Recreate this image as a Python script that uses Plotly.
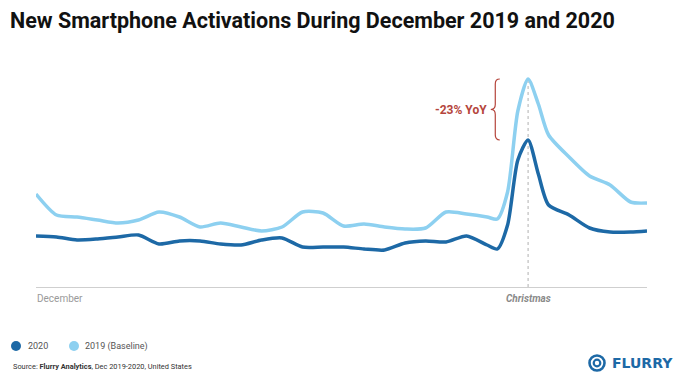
import plotly.graph_objects as go

# ---- data (daily activation index, December) ----
days = [1, 2, 3, 4, 5, 6, 7, 8, 9, 10, 11, 12, 13, 14, 15, 16, 17, 18, 19, 20,
        21, 22, 23, 23.5, 24, 24.5, 25, 25.5, 26, 27, 28, 29, 30, 30.8]
act_2019 = [93, 72, 70, 67, 64, 67, 75, 70, 60, 64, 60, 56, 60, 75, 74, 61, 63, 60, 58, 59,
            75, 73, 70, 68, 95, 176, 208, 183, 152, 130, 111, 102, 85, 84]
act_2020 = [51, 50, 47, 48, 50, 52, 43, 46, 46, 43, 42, 47, 49, 40, 40, 40, 38, 37, 44, 46,
            45, 51, 42, 38, 62, 127, 147, 113, 82, 72, 59, 55, 55, 56]
series_names = ["2020", "2019 (Baseline)"]
christmas_day = 25
yoy_label = "-23% YoY"
x_tick_first = "December"
x_tick_christmas = "Christmas"

DARK = "#1d69a6"
LIGHT = "#8dd0f0"
RED = "#b5453c"

# figure geometry (page body has an 8px margin)
FW, FH = 673, 365
L, R, T, B = 28, 34, 64, 86
PW, PH = FW - L - R, FH - T - B


def fx(p):  # figure pixel x -> paper
    return (p - L) / PW


def fy(p):  # figure pixel y -> paper
    return (FH - B - p) / PH


fig = go.Figure()

fig.add_trace(go.Scatter(x=days, y=act_2019, mode="lines", name=series_names[1],
                         line=dict(color=LIGHT, width=3.5, shape="spline", smoothing=0.7),
                         showlegend=False, hoverinfo="skip"))
fig.add_trace(go.Scatter(x=days, y=act_2020, mode="lines", name=series_names[0],
                         line=dict(color=DARK, width=3.5, shape="spline", smoothing=0.7),
                         showlegend=False, hoverinfo="skip"))

peak19 = max(act_2019)
peak20 = max(act_2020)

# Christmas dotted line
fig.add_shape(type="line", xref="x", yref="y", x0=christmas_day, x1=christmas_day,
              y0=0, y1=peak19, line=dict(color="#b0b0b0", width=1, dash="dot"), layer="below")

# curly brace between the two peaks
xc = christmas_day - 1.6
dx = 0.22
h = peak19 - peak20
mid = (peak19 + peak20) / 2
r = h * 0.08
brace = (f"M {xc+dx},{peak19} Q {xc},{peak19} {xc},{peak19-r} "
         f"L {xc},{mid+r} Q {xc},{mid} {xc-dx},{mid} "
         f"Q {xc},{mid} {xc},{mid-r} "
         f"L {xc},{peak20+r} Q {xc},{peak20} {xc+dx},{peak20}")
fig.add_shape(type="path", xref="x", yref="y", path=brace,
              line=dict(color=RED, width=1.2))

fig.add_annotation(x=xc - 0.3, y=mid, xref="x", yref="y", text=f"<b>{yoy_label}</b>",
                   showarrow=False, xanchor="right", yanchor="middle",
                   font=dict(family="Roboto", size=12, color=RED))

# x labels
fig.add_annotation(x=days[0], y=0, xref="x", yref="y", text=x_tick_first, showarrow=False,
                   xanchor="left", yanchor="top", yshift=-4, xshift=-1,
                   font=dict(family="Roboto", size=10, color="#9a9a9a"))
fig.add_annotation(x=christmas_day, y=0, xref="x", yref="y", text=f"<b><i>{x_tick_christmas}</i></b>",
                   showarrow=False, xanchor="center", yanchor="top", yshift=-4,
                   font=dict(family="Roboto", size=10, color="#8a8a8a"))

# legend (round swatches + labels)
legend_colors = [DARK, LIGHT]
legend_dot_x = [8, 66]
legend_text_x = [18, 75]
for name, col, dxp, txp in zip(series_names, legend_colors, legend_dot_x, legend_text_x):
    fig.add_shape(type="circle", xref="paper", yref="paper",
                  x0=fx(dxp - 5), x1=fx(dxp + 5), y0=fy(338 + 5), y1=fy(338 - 5),
                  fillcolor=col, line=dict(width=0))
    fig.add_annotation(x=fx(txp), y=fy(338), xref="paper", yref="paper", text=name,
                       showarrow=False, xanchor="left", yanchor="middle",
                       font=dict(family="Roboto", size=9, color="#555555"))

# source line
fig.add_annotation(x=fx(3), y=fy(358), xref="paper", yref="paper",
                   text="Source: <b>Flurry Analytics</b>, Dec 2019-2020, United States",
                   showarrow=False, xanchor="left", yanchor="middle",
                   font=dict(family="Roboto", size=7.4, color="#333333"))

# Flurry logo
cx, cy = 589, 355
for rad, w in [(7.5, 2.6), (3.3, 2.2)]:
    fig.add_shape(type="circle", xref="paper", yref="paper",
                  x0=fx(cx - rad), x1=fx(cx + rad), y0=fy(cy + rad), y1=fy(cy - rad),
                  line=dict(color=DARK, width=w))
fig.add_annotation(x=fx(602), y=fy(355), xref="paper", yref="paper", text="<b>FLURRY</b>",
                   showarrow=False, xanchor="left", yanchor="middle",
                   font=dict(family="DejaVu Sans", size=14, color=DARK))

fig.update_layout(
    width=FW, height=FH,
    margin=dict(l=L, r=R, t=T, b=B),
    paper_bgcolor="white", plot_bgcolor="white",
    title=dict(text="<b>New Smartphone Activations During December 2019 and 2020</b>",
               x=2 / FW, xanchor="left", xref="container",
               y=1 - 12 / FH, yanchor="middle", yref="container",
               font=dict(family="Roboto", size=21.5, color="#111111")),
    xaxis=dict(range=[1, 30.8], showgrid=False, zeroline=False, showticklabels=False,
               showline=True, linecolor="#cfcfcf", linewidth=1, ticks=""),
    yaxis=dict(range=[0, PH], showgrid=False, zeroline=False, showticklabels=False,
               showline=False, ticks=""),
    showlegend=False,
)

fig.write_html("out.html")
